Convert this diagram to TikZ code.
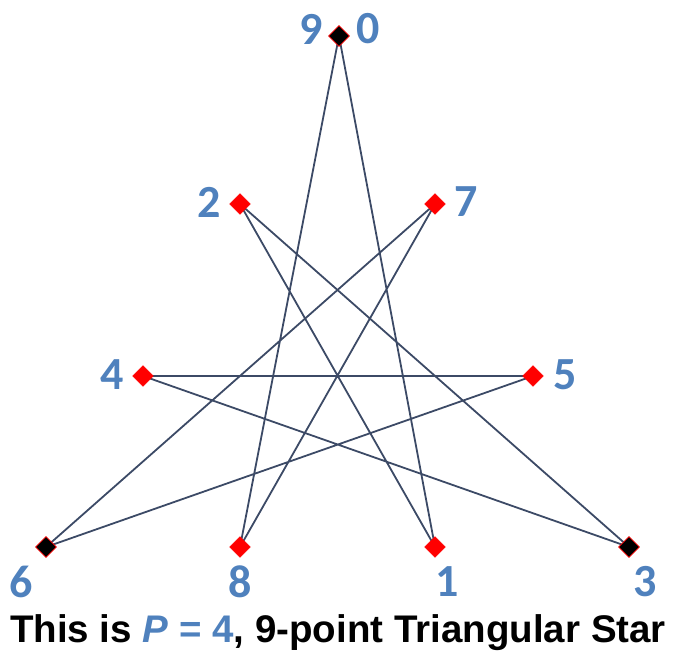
\documentclass[tikz,border=0pt]{standalone}
\usepackage{fontspec}
\setmainfont{Liberation Sans}
\newfontfamily\labfont{Carlito}
\definecolor{labblue}{HTML}{4F81BD}
\definecolor{edgecol}{HTML}{3C4A66}
\tikzset{
  redpt/.style={diamond,fill=red,draw=red,inner sep=0pt,minimum size=21pt},
  blkpt/.style={diamond,fill=black,draw=red,line width=0.6pt,inner sep=0pt,minimum size=21pt},
  lab/.style={text=labblue,font=\labfont\bfseries\fontsize{46}{46}\selectfont,inner sep=0pt},
  edge/.style={draw=edgecol,line width=1.8pt}
}
\usetikzlibrary{shapes.geometric}
\begin{document}
\begin{tikzpicture}[x=1pt,y=-1pt]
\useasboundingbox (0,0) rectangle (676,656);
\coordinate (c0) at (339,36);
\coordinate (c1) at (435,547);
\coordinate (c2) at (240,204);
\coordinate (c3) at (629,547);
\coordinate (c4) at (143,376);
\coordinate (c5) at (533,376);
\coordinate (c6) at (46,547);
\coordinate (c7) at (435,204);
\coordinate (c8) at (240,547);
\draw[edge] (c0) -- (c1) -- (c2) -- (c3) -- (c4) -- (c5) -- (c6) -- (c7) -- (c8) -- (c0);
\node[blkpt] (p0) at (c0) {};
\node[redpt] (p1) at (c1) {};
\node[redpt] (p2) at (c2) {};
\node[blkpt] (p3) at (c3) {};
\node[redpt] (p4) at (c4) {};
\node[redpt] (p5) at (c5) {};
\node[blkpt] (p6) at (c6) {};
\node[redpt] (p7) at (c7) {};
\node[redpt] (p8) at (c8) {};
\node[lab] (l9) at (311,29) {9};
\node[lab] (l0) at (368,29) {0};
\node[lab] (l2) at (209,202) {2};
\node[lab] (l7) at (466,202) {7};
\node[lab] (l4) at (112,375) {4};
\node[lab] (l5) at (565,375) {5};
\node[lab] (l6) at (21,582) {6};
\node[lab] (l8) at (240,582) {8};
\node[lab] (l1) at (447,582) {1};
\node[lab] (l3) at (645,582) {3};
\node[font=\bfseries\fontsize{38.5}{38.5}\selectfont,inner sep=0pt] (title) at (338,633) {This is \textcolor{labblue}{\textit{P} = 4}, 9-point Triangular Star};
\end{tikzpicture}
\end{document}
